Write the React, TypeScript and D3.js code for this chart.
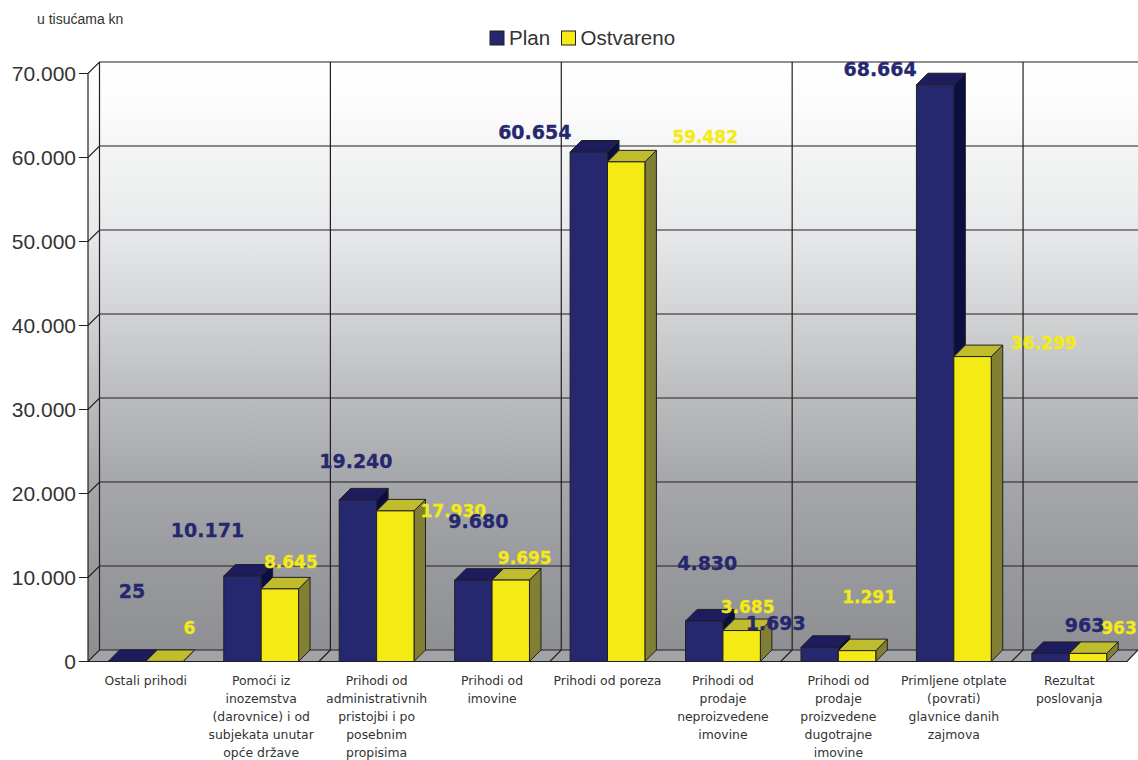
import * as d3 from 'd3';
import { useEffect, useRef } from 'react';

const categories = [
  'Ostali prihodi',
  'Pomoći iz inozemstva (darovnice) i od subjekata unutar opće države',
  'Prihodi od administrativnih pristojbi i po posebnim propisima',
  'Prihodi od imovine',
  'Prihodi od poreza',
  'Prihodi od prodaje neproizvedene imovine',
  'Prihodi od prodaje proizvedene dugotrajne imovine',
  'Primljene otplate (povrati) glavnice danih zajmova',
  'Rezultat poslovanja',
];
const categoryLines = [
  ['Ostali prihodi'],
  ['Pomoći iz', 'inozemstva', '(darovnice) i od', 'subjekata unutar', 'opće države'],
  ['Prihodi od', 'administrativnih', 'pristojbi i po', 'posebnim', 'propisima'],
  ['Prihodi od', 'imovine'],
  ['Prihodi od poreza'],
  ['Prihodi od', 'prodaje', 'neproizvedene', 'imovine'],
  ['Prihodi od', 'prodaje', 'proizvedene', 'dugotrajne', 'imovine'],
  ['Primljene otplate', '(povrati)', 'glavnice danih', 'zajmova'],
  ['Rezultat', 'poslovanja'],
];
const plan = [25, 10171, 19240, 9680, 60654, 4830, 1693, 68664, 963];
const actual = [6, 8645, 17930, 9695, 59482, 3685, 1291, 36299, 963];

// the value labels are scattered in the original, offset from the top of each bar
const planLabelDx = [5, -35, -2, 5, -54, 3, -44, -55, 34];
const planLabelDy = [-70, -46, -39, -59, -20, -58, -24, -16, -28];
const actualLabelDx = [25, 11, 58, 14, 79, 6, 12, 71, 31];
const actualLabelDy = [-33, -27, 0, -22, -25, -23.5, -54, -14, -25];

const width = 1138;
const height = 760;
const depth = 11.5; // 3d offset of the back wall
const left = 88;
const right = 1127;
const y0 = 661.5;
const y70 = 73.5;
const lineColor = '#231f20';
const textColor = '#333333';

const series = [
  { name: 'Plan', values: plan, front: '#25286f', top: '#1c1c5e', side: '#0a0e40', dx: planLabelDx, dy: planLabelDy, size: 19 },
  { name: 'Ostvareno', values: actual, front: '#f4ea14', top: '#bfbc2e', side: '#807f34', dx: actualLabelDx, dy: actualLabelDy, size: 17 },
];

const wallStops = [
  [0, '#ffffff'],
  [0.08, '#fcfcfc'],
  [0.14, '#f4f5f5'],
  [0.28, '#e8e9ea'],
  [0.42, '#d2d3d5'],
  [0.56, '#bbbcbe'],
  [0.7, '#a6a7aa'],
  [0.84, '#999a9d'],
  [1, '#8d8e91'],
];

export default function App() {
  const ref = useRef<SVGSVGElement | null>(null);

  useEffect(() => {
    const svg = d3.select(ref.current);
    svg.selectAll('*').remove();

    const x = d3.scaleBand().domain(categories).range([left, right]);
    const y = d3.scaleLinear().domain([0, 70000]).range([y0, y70]);
    const groupX = d3.scaleBand().domain(series.map((s) => s.name)).range([x.bandwidth() * 0.176, x.bandwidth() * 0.824]);
    const format = d3.formatLocale({ decimal: ',', thousands: '.', grouping: [3], currency: ['', ''] }).format(',d');
    const ticks = y.ticks(7);

    const grad = svg
      .append('defs')
      .append('linearGradient')
      .attr('id', 'wall')
      .attr('x1', 0)
      .attr('x2', 0)
      .attr('y1', 0)
      .attr('y2', 1);
    wallStops.forEach(([o, c]) => {
      grad.append('stop').attr('offset', o).attr('stop-color', c);
    });

    // walls and floor
    svg
      .append('path')
      .attr('fill', 'url(#wall)')
      .attr('d', `M${left},${y70}L${left + depth},${y70 - depth}H${width}V${y0 - depth}H${left + depth}L${left},${y0}Z`);
    svg
      .append('path')
      .attr('fill', '#a2a3a7')
      .attr('d', `M${left},${y0}L${left + depth},${y0 - depth}H${width}L${right},${y0}Z`);

    const grid = svg.append('g').attr('stroke', lineColor).attr('stroke-width', 1.2).attr('fill', 'none');
    ticks.forEach((t) => {
      grid.append('path').attr('d', `M${left - 9},${y(t)}H${left}L${left + depth},${y(t) - depth}H${width}`);
    });
    grid.append('path').attr('d', `M${left},${y70}V${y0}H${right}L${width},${y0 - depth}`);
    grid.append('path').attr('d', `M${left + depth},${y70 - depth}V${y0 - depth}`);
    categories.forEach((c, i) => {
      if (i % 2 === 0 && i > 0) {
        const bx = x(c)!;
        grid.append('path').attr('d', `M${bx},${y0}L${bx + depth},${y0 - depth}V${y70 - depth}`);
      }
    });

    // bars
    categories.forEach((c, i) => {
      series.forEach((s) => {
        const bx = x(c)! + groupX(s.name)!;
        const bw = groupX.bandwidth();
        const by = y(s.values[i]);
        const g = svg.append('g').attr('stroke', lineColor).attr('stroke-width', 1).attr('stroke-linejoin', 'round');
        g.append('path')
          .attr('fill', s.side)
          .attr('d', `M${bx + bw},${by}l${depth},${-depth}V${y0 - depth}L${bx + bw},${y0}Z`);
        g.append('path')
          .attr('fill', s.top)
          .attr('d', `M${bx},${by}l${depth},${-depth}h${bw}l${-depth},${depth}Z`);
        g.append('rect')
          .attr('fill', s.front)
          .attr('x', bx)
          .attr('y', by)
          .attr('width', bw)
          .attr('height', y0 - by);
      });
    });

    // value labels
    const valueLabels = svg
      .append('g')
      .attr('font-family', '"DejaVu Sans"')
      .attr('font-weight', 'bold')
      .attr('text-anchor', 'middle')
      .attr('dominant-baseline', 'central');
    [series[1], series[0]].forEach((s) => {
      categories.forEach((c, i) => {
        valueLabels
          .append('text')
          .attr('x', x(c)! + groupX(s.name)! + groupX.bandwidth() / 2 + s.dx[i])
          .attr('y', y(s.values[i]) + s.dy[i])
          .attr('fill', s.front)
          .attr('stroke', s.front)
          .attr('stroke-width', 0.3)
          .attr('font-size', s.size)
          .text(format(s.values[i]));
      });
    });

    // y axis labels
    svg
      .append('g')
      .attr('font-family', '"Liberation Sans"')
      .attr('font-size', 21)
      .attr('fill', textColor)
      .attr('text-anchor', 'end')
      .selectAll('text')
      .data(ticks)
      .join('text')
      .attr('x', 76)
      .attr('y', (d) => y(d) + 7.5)
      .text((d) => format(d));

    // category labels
    const catLabels = svg
      .append('g')
      .attr('font-family', '"DejaVu Sans"')
      .attr('font-size', 12.4)
      .attr('fill', textColor)
      .attr('text-anchor', 'middle');
    categories.forEach((c, i) => {
      categoryLines[i].forEach((line, j) => {
        catLabels
          .append('text')
          .attr('x', x(c)! + x.bandwidth() / 2)
          .attr('y', 685 + j * 18)
          .text(line);
      });
    });

    // legend
    const legend = svg.append('g').attr('font-family', '"Liberation Sans"').attr('font-size', 20.5).attr('fill', textColor);
    [490, 561.5].forEach((lx, i) => {
      legend
        .append('rect')
        .attr('x', lx)
        .attr('y', 31)
        .attr('width', 14)
        .attr('height', 14)
        .attr('fill', series[i].front)
        .attr('stroke', lineColor);
      legend
        .append('text')
        .attr('x', lx + 19)
        .attr('y', 44.5)
        .text(series[i].name);
    });

    svg
      .append('text')
      .attr('x', 37)
      .attr('y', 24)
      .attr('font-family', '"Liberation Sans"')
      .attr('font-size', 14)
      .attr('fill', textColor)
      .text('u tisućama kn');
  }, []);

  return <svg ref={ref} width={width} height={height} style={{ position: 'absolute', left: 0, top: 0 }} />;
}
